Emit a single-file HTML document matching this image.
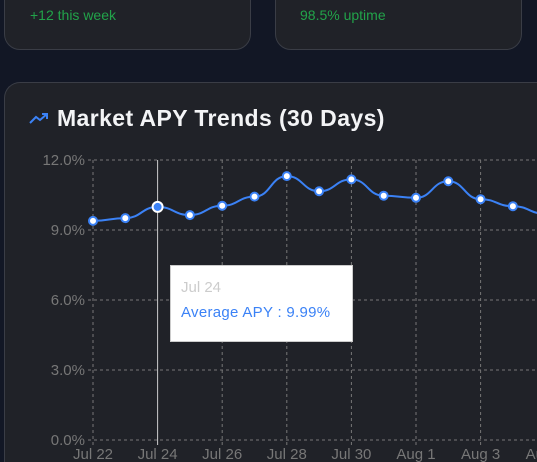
<!DOCTYPE html>
<html><head><meta charset="utf-8"><style>
html,body{margin:0;width:537px;height:462px;overflow:hidden}
body{background:#121725;font-family:"Liberation Sans",sans-serif;position:relative}
.card{position:absolute;background:#202228;border:1px solid #3a3d46;border-radius:16px;box-sizing:border-box}
.g{position:absolute;color:#22a34a;font-size:14px}
</style></head><body>
<div class="card" style="left:4px;top:-20px;width:247px;height:70px"></div>
<div class="g" style="left:30px;top:7px">+12 this week</div>
<div class="card" style="left:275px;top:-20px;width:247px;height:70px"></div>
<div class="g" style="left:300px;top:7px">98.5% uptime</div>
<div class="card" style="left:4px;top:82px;width:533px;height:380px;border-right:none;border-bottom:none;border-radius:16px 0 0 0"></div>
<svg style="position:absolute;left:29px;top:111px" width="20" height="14" viewBox="0 0 20 14"><path d="M1 12 L7 6 L11 9 L18 3 M13 3 H18 V8" fill="none" stroke="#3b82f6" stroke-width="2"/></svg>
<div style="position:absolute;left:57px;top:105px;color:#f3f4f6;font-size:23px;font-weight:bold;letter-spacing:0.4px;white-space:nowrap">Market APY Trends (30 Days)</div>
<svg id="c" width="537" height="462" style="position:absolute;left:0;top:0"></svg>
<div style="position:absolute;left:170px;top:265px;width:183px;height:77px;background:#fff;border:1px solid #ccc;box-sizing:border-box;padding:13px 10px;font-size:15px">
<div style="color:#ccc">Jul 24</div><div style="color:#3b82f6;margin-top:8px;letter-spacing:0.3px;white-space:nowrap">Average APY : 9.99%</div></div>
<script>
const dates=["Jul 22","Jul 23","Jul 24","Jul 25","Jul 26","Jul 27","Jul 28","Jul 29","Jul 30","Jul 31","Aug 1","Aug 2","Aug 3","Aug 4","Aug 5"];
const apy=[9.39,9.51,9.99,9.64,10.04,10.43,11.31,10.66,11.17,10.47,10.38,11.09,10.32,10.02,9.7];
const yTicks=[0,3,6,9,12];
const yLabels=["0.0%","3.0%","6.0%","9.0%","12.0%"];
const NS="http://www.w3.org/2000/svg",s=document.getElementById('c');
const X=i=>93+i*32.3, Y=v=>440-v*(280/12);
function el(t,a){const e=document.createElementNS(NS,t);for(const k in a)e.setAttribute(k,a[k]);s.appendChild(e);return e;}
yTicks.forEach((t,k)=>{
 const g=el('line',{x1:88,x2:537,y1:Y(t),y2:Y(t),stroke:'#777','stroke-dasharray':'3 3'});
 
 
 const tx=el('text',{x:85,y:Y(t)+5,'text-anchor':'end',fill:'#777','font-size':15,'font-family':'Liberation Sans'});
 tx.textContent=yLabels[k];
 
 
});
dates.forEach((d,i)=>{
 if(i%2)return;
 const g=el('line',{x1:X(i),x2:X(i),y1:Y(12),y2:Y(0)+5,stroke:i==2?'#ccc':'#777','stroke-dasharray':i==2?'':'3 3'});
 
 
 const tx=el('text',{x:X(i),y:459,'text-anchor':'middle',fill:'#777','font-size':15,'font-family':'Liberation Sans'});
 tx.textContent=d;
 
 
});
let p='';
for(let i=0;i<apy.length;i++){
 if(i==0){p+=`M${X(0)},${Y(apy[0])}`;continue;}
 const x0=X(i-1),x1=X(i),y0=Y(apy[i-1]),y1=Y(apy[i]),m=(x0+x1)/2;
 p+=` C${m},${y0} ${m},${y1} ${x1},${y1}`;
}
const ln=el('path',{d:p,fill:'none',stroke:'#3b82f6','stroke-width':2});


apy.forEach((v,i)=>{
 const a=i==2;
 const c=el('circle',{cx:X(i),cy:Y(v),r:a?5:4,fill:a?'#3b82f6':'#fff',stroke:a?'#fff':'#3b82f6','stroke-width':2});
 
 
});
</script>
</body></html>
